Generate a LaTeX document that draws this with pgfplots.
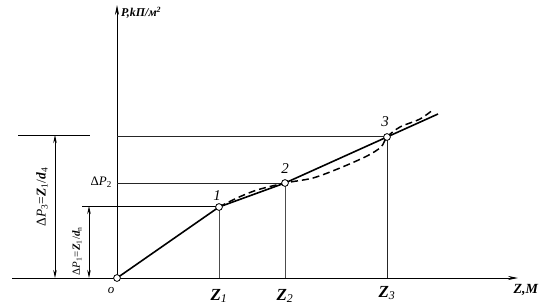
\documentclass[border=0pt]{standalone}
\usepackage{pgfplots}
\pgfplotsset{compat=1.18}
\usepackage{fontspec}
\setmainfont{Liberation Serif}
\usetikzlibrary{arrows.meta}
\begin{document}
\begin{tikzpicture}
\begin{axis}[width=547bp,height=305bp,scale only axis,
  xmin=-117,xmax=430,ymin=-27,ymax=278,
  hide axis, clip=false]
\path (axis cs:-117,-27) rectangle (axis cs:430,278);
% axes
\addplot[black, line width=0.8pt, -{Stealth[length=10pt,width=4pt]}] coordinates {(-105,0) (401,0)};
\addplot[black, line width=0.8pt, -{Stealth[length=10pt,width=4pt]}] coordinates {(0,0) (0,273)};
% vertical lines
\addplot[black!70, line width=0.7pt] coordinates {(102,0) (102,71)};
\addplot[black!70, line width=0.7pt] coordinates {(168,0) (168,95)};
\addplot[black!85, line width=0.7pt] coordinates {(270,0) (270,141)};
% horizontal lines
\addplot[black!85, line width=0.7pt] coordinates {(0,142) (270,142)};
\addplot[black, line width=0.8pt] coordinates {(-99,143) (-27,143)};
\addplot[black!85, line width=0.7pt] coordinates {(0,95) (168,95)};
\addplot[black, line width=0.7pt] coordinates {(-35,72) (102,72)};
% dimension arrows
\addplot[black, line width=0.7pt, {Stealth[length=8pt,width=3.5pt]}-{Stealth[length=8pt,width=3.5pt]}] coordinates {(-62,0) (-62,143)};
\addplot[black, line width=0.7pt, {Stealth[length=8pt,width=3.5pt]}-{Stealth[length=8pt,width=3.5pt]}] coordinates {(-28,0) (-28,72)};
% dashed curve
\addplot[black, line width=1.5pt, dash pattern=on 7pt off 4pt, smooth, tension=0.5] coordinates {
 (102,71) (120,80) (140,88) (168,95) (196,100) (223,110) (250,122) (264,131) (270,141) (283,151) (303,159) (317,169)};
% solid line
\addplot[black, line width=1.6pt] coordinates {(0,0) (102,71) (168,95) (270,141) (321,164)};
% points
\addplot[only marks, mark=*, mark size=3.4pt, mark options={fill=white, draw=black, line width=0.8pt}] coordinates {(0,0) (102,71) (168,95) (270,141)};
% labels
\node at (axis cs:-6,-13) {\fontsize{13}{13}\selectfont\textit{o}};
\node at (axis cs:100,82) {\fontsize{15}{15}\selectfont\textit{1}};
\node at (axis cs:168,109) {\fontsize{15}{15}\selectfont\textit{2}};
\node at (axis cs:268,156) {\fontsize{15}{15}\selectfont\textit{3}};
\node at (axis cs:102,-18) {\fontsize{17}{17}\selectfont\textbf{\textit{Z}}\textsubscript{\textit{1}}};
\node at (axis cs:168,-18) {\fontsize{17}{17}\selectfont\textbf{\textit{Z}}\textsubscript{\textit{2}}};
\node at (axis cs:270,-15) {\fontsize{17}{17}\selectfont\textbf{\textit{Z}}\textsubscript{\textit{3}}};
\node at (axis cs:409,-12) {\fontsize{14}{14}\selectfont\textbf{\textit{Z,M}}};
\node[anchor=west, inner sep=0pt] at (axis cs:4,265) {\fontsize{12}{12}\selectfont\textbf{\textit{P,kП/м\textsuperscript{2}}}};
\node[anchor=east, inner sep=1pt] at (axis cs:-4,96) {\fontsize{13}{13}\selectfont Δ\textit{P}\textsubscript{2}};
\node[rotate=90] at (axis cs:-75,81) {\fontsize{13.5}{13.5}\selectfont Δ\textit{P}\textsubscript{3}=\textbf{\textit{Z}}\textsubscript{1}/\textbf{\textit{d}}\textsubscript{4}};
\node[rotate=90] at (axis cs:-40,27) {\fontsize{11}{11}\selectfont Δ\textit{P}\textsubscript{1}=\textbf{\textit{Z}}\textsubscript{1}/\textbf{\textit{d}}\textsubscript{n}};
\end{axis}
\end{tikzpicture}
\end{document}
